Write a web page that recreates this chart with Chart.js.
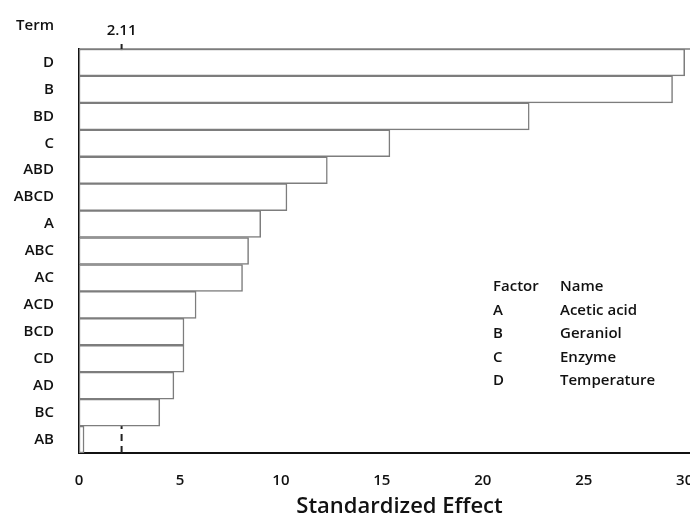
<!DOCTYPE html>
<html>
<head>
<meta charset="utf-8">
<script src="https://cdn.jsdelivr.net/npm/chart.js@4.4.0/dist/chart.umd.min.js"></script>
<style>
  html, body { margin: 0; padding: 0; background: #fff; overflow: hidden; }
  #wrap { width: 720px; height: 520px; }
</style>
</head>
<body>
<div id="wrap"><canvas id="paretoChart" width="720" height="520"></canvas></div>
<script>
// Pareto chart of the standardized effects
const terms = ['D', 'B', 'BD', 'C', 'ABD', 'ABCD', 'A', 'ABC', 'AC', 'ACD', 'BCD', 'CD', 'AD', 'BC', 'AB'];
const effects = [30.0, 29.4, 22.3, 15.4, 12.3, 10.3, 9.0, 8.4, 8.1, 5.8, 5.2, 5.2, 4.7, 4.0, 0.25];
const xTicks = [0, 5, 10, 15, 20, 25, 30];
const refValue = 2.11;
const factorCodes = ['A', 'B', 'C', 'D'];
const factorNames = ['Acetic acid', 'Geraniol', 'Enzyme', 'Temperature'];

const FONT = '"Open Sans", "Noto Sans", sans-serif';
const TEXT = '#111111';

// reference line at 2.11, drawn behind the bars
const refLinePlugin = {
    id: 'refLine',
    beforeDatasetsDraw(chart) {
        const ctx = chart.ctx;
        const area = chart.chartArea;
        const x = chart.scales.x.getPixelForValue(refValue);
        ctx.save();
        ctx.strokeStyle = '#222';
        ctx.lineWidth = 2;
        ctx.setLineDash([7, 5]);
        ctx.beginPath();
        ctx.moveTo(x, area.bottom);
        ctx.lineTo(x, area.top);
        ctx.stroke();
        ctx.restore();
    },
    afterDraw(chart) {
        const ctx = chart.ctx;
        const area = chart.chartArea;
        const x = chart.scales.x.getPixelForValue(refValue);
        ctx.save();
        // top frame line
        ctx.strokeStyle = '#7d7d7d';
        ctx.lineWidth = 1.5;
        ctx.beginPath();
        ctx.moveTo(area.left, area.top);
        ctx.lineTo(area.right, area.top);
        ctx.stroke();
        // small tick above the frame
        ctx.strokeStyle = '#222';
        ctx.lineWidth = 2;
        ctx.beginPath();
        ctx.moveTo(x, area.top);
        ctx.lineTo(x, area.top - 5);
        ctx.stroke();

        ctx.fillStyle = TEXT;
        ctx.textBaseline = 'middle';
        ctx.font = '600 15px ' + FONT;
        ctx.textAlign = 'center';
        ctx.fillText(refValue.toString(), x, 31);
        ctx.textAlign = 'right';
        ctx.fillText('Term', 54, 26);

        // factor table
        ctx.textAlign = 'left';
        ctx.fillText('Factor', 493, 287);
        ctx.fillText('Name', 560, 287);
        factorCodes.forEach((code, i) => {
            const y = 310.5 + i * 23.5;
            ctx.fillText(code, 493, y);
            ctx.fillText(factorNames[i], 560, y);
        });
        ctx.restore();
    }
};

var ctx1 = document.getElementById('paretoChart').getContext('2d');
var paretoChart = new Chart(ctx1, {
    type: 'bar',
    data: {
        labels: terms,
        datasets: [{
            data: effects,
            backgroundColor: '#ffffff',
            borderColor: '#7d7d7d',
            borderWidth: 1.5,
            borderSkipped: false,
            categoryPercentage: 1.0,
            barPercentage: 1.0
        }]
    },
    options: {
        indexAxis: 'y',
        responsive: false,
        animation: false,
        layout: { padding: { top: 49, left: 0, right: 0, bottom: 0 } },
        plugins: {
            legend: { display: false },
            tooltip: { enabled: false }
        },
        scales: {
            x: {
                min: 0,
                max: 31.75,
                z: 1,
                afterBuildTicks: scale => { scale.ticks = xTicks.map(v => ({ value: v })); },
                afterFit: scale => { scale.height = 67; },
                grid: { display: false, drawTicks: false },
                border: { display: true, color: '#111', width: 2 },
                ticks: {
                    padding: 19,
                    color: TEXT,
                    font: { family: FONT, size: 15, weight: '600' },
                    maxRotation: 0
                },
                title: {
                    display: true,
                    text: 'Standardized Effect',
                    color: TEXT,
                    font: { family: FONT, size: 22, weight: '600' },
                    padding: { top: 0, bottom: 0 }
                }
            },
            y: {
                z: 1,
                afterFit: scale => { scale.width = 79; },
                grid: { display: false, drawTicks: false },
                border: { display: true, color: '#111', width: 2 },
                ticks: {
                    padding: 25,
                    color: TEXT,
                    font: { family: FONT, size: 15, weight: '600' }
                }
            }
        }
    },
    plugins: [refLinePlugin]
});
</script>
</body>
</html>
